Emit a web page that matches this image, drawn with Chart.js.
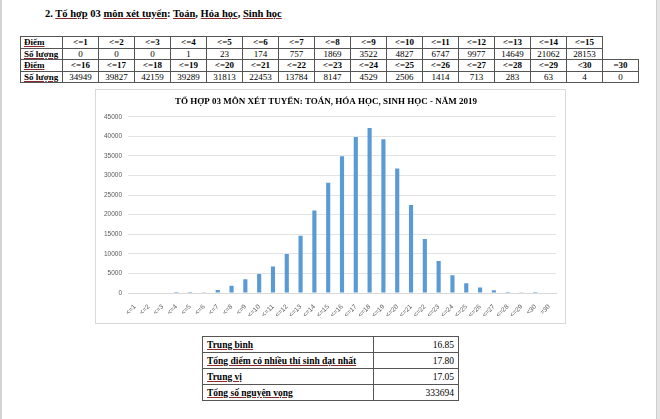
<!DOCTYPE html>
<html>
<head>
<meta charset="utf-8">
<script src="https://cdn.jsdelivr.net/npm/chart.js@4/dist/chart.umd.min.js"></script>
<style>
  body { margin: 0; width: 660px; height: 419px; background: #fff; position: relative; overflow: hidden; font-family: "Liberation Serif", serif; }
  .edgeL { position: absolute; left: 0; top: 0; width: 2px; height: 419px; background: #d4d4d4; }
  .edgeR { position: absolute; left: 656px; top: 0; width: 4px; height: 419px; background: #e4e4e4; border-left: 1px solid #cfcfcf; box-sizing: border-box; }
  h2 { position: absolute; left: 45px; top: 8px; margin: 0; font-size: 10.5px; font-weight: bold; white-space: nowrap; }
  .sp { text-decoration: underline; text-decoration-color: #8a2a2a; text-underline-offset: 1px; }
  table.grid { position: absolute; border-collapse: collapse; table-layout: fixed; font-size: 9px; }
  table.grid td { border: 1px solid #555; height: 10.6px; padding: 0; text-align: center; line-height: 10px; }
  table.grid td.h { text-align: left; padding-left: 3px; font-weight: bold; }
  table.grid tr.hd td { font-weight: bold; }
  #chartBox { position: absolute; left: 95px; top: 89px; width: 471px; height: 235px; border: 1px solid #d9d9d9; box-sizing: border-box; }
  #chart { display: block; }
  table.stats { position: absolute; left: 202px; top: 336px; border-collapse: collapse; table-layout: fixed; font-size: 9.5px; }
  table.stats td { border: 1px solid #555; height: 15px; padding: 0 4px; line-height: 12px; }
  table.stats td.lbl { font-weight: bold; }
  table.stats td.val { text-align: right; }
</style>
</head>
<body>
<div class="edgeL"></div>
<div class="edgeR"></div>
<h2>2. <span class="sp">Tổ hợp</span> 03 <span class="sp">môn xét tuyển</span>: <span class="sp">Toán</span>, <span class="sp">Hóa học</span>, <span class="sp">Sinh học</span></h2>

<table class="grid" id="t1" style="left:20px; top:36px;"></table>
<table class="grid" id="t2" style="left:20px; top:59px;"></table>

<div id="chartBox"><canvas id="chart" width="469" height="233"></canvas></div>

<table class="stats" id="t3"></table>

<script>
const categories = ["<=1","<=2","<=3","<=4","<=5","<=6","<=7","<=8","<=9","<=10",
  "<=11","<=12","<=13","<=14","<=15","<=16","<=17","<=18","<=19","<=20",
  "<=21","<=22","<=23","<=24","<=25","<=26","<=27","<=28","<=29","<30","=30"];
const counts = [0,0,0,1,23,174,757,1869,3522,4827,
  6747,9977,14649,21062,28153,34949,39827,42159,39289,31813,
  22453,13784,8147,4529,2506,1414,713,283,63,4,0];
const yTicks = [0,5000,10000,15000,20000,25000,30000,35000,40000,45000];
const statLabels = ["Trung bình","Tổng điểm có nhiều thí sinh đạt nhất","Trung vị","Tổng số nguyện vọng"];
const statValues = ["16.85","17.80","17.05","333694"];

const chartTitle = "TỔ HỢP 03 MÔN XÉT TUYỂN: TOÁN, HÓA HỌC, SINH HỌC - NĂM 2019";

// score table, split in two halves like the document
function fillGrid(id, cats, vals) {
  let t = document.getElementById(id);
  let html = '<colgroup><col style="width:42px">';
  cats.forEach(() => html += '<col style="width:36px">');
  html += '</colgroup>';
  html += '<tr class="hd"><td class="h"><span class="sp">Điểm</span></td>' + cats.map(c => '<td>' + c.replace('<', '&lt;') + '</td>').join('') + '</tr>';
  html += '<tr><td class="h"><span class="sp">Số lượng</span></td>' + vals.map(v => '<td>' + v + '</td>').join('') + '</tr>';
  t.innerHTML = html;
}
fillGrid('t1', categories.slice(0, 15), counts.slice(0, 15));
fillGrid('t2', categories.slice(15), counts.slice(15));

let st = '<colgroup><col style="width:171px"><col style="width:85px"></colgroup>';
statLabels.forEach((l, i) => {
  st += '<tr><td class="lbl"><span class="sp">' + l + '</span></td><td class="val">' + statValues[i] + '</td></tr>';
});
document.getElementById('t3').innerHTML = st;

let ctx = document.getElementById('chart');
new Chart(ctx, {
  type: 'bar',
  data: {
    labels: categories,
    datasets: [{
      data: counts,
      backgroundColor: '#5b9bd5',
      barPercentage: 0.3,
      categoryPercentage: 1
    }]
  },
  options: {
    responsive: false,
    animation: false,
    layout: { padding: { right: 9, bottom: 6, left: 0, top: 0 } },
    plugins: {
      legend: { display: false },
      tooltip: { enabled: false },
      title: {
        display: true,
        text: chartTitle,
        color: '#000',
        font: { family: 'Liberation Serif', weight: 'bold', size: 9 },
        padding: { top: 6, bottom: 10 }
      }
    },
    scales: {
      y: {
        min: 0,
        max: 45000,
        afterBuildTicks: s => { s.ticks = yTicks.map(v => ({ value: v })); },
        afterFit: s => { s.width = 32; },
        ticks: {
          color: '#595959',
          font: { family: 'Liberation Sans', size: 6.5 },
          padding: 6,
          callback: v => String(v)  // no thousands separator, like Excel
        },
        grid: { color: '#e3e3e3', drawTicks: false },
        border: { display: false }
      },
      x: {
        afterFit: s => { s.height = 24; },
        ticks: {
          color: '#595959',
          font: { family: 'Liberation Sans', size: 6.5 },
          autoSkip: false,
          maxRotation: 45,
          minRotation: 45,
          padding: 2
        },
        grid: { display: false },
        border: { color: '#d9d9d9' }
      }
    }
  }
});
</script>
</body>
</html>
